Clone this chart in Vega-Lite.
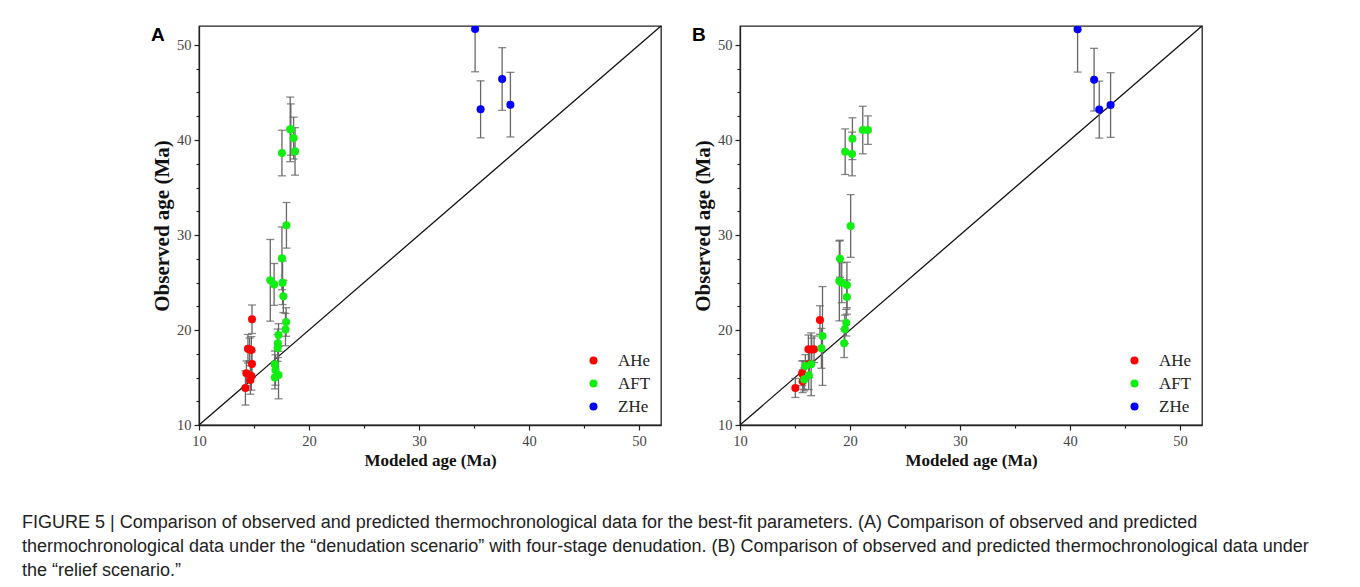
{
  "$schema": "https://vega.github.io/schema/vega-lite/v6.json",
  "padding": {"left": 22, "top": 22, "right": 5, "bottom": 5},
  "datasets": {
    "pts": [
      {"panel": "A", "type": "AHe", "modeled": 14.22, "observed": 13.9, "err": 1.8},
      {"panel": "A", "type": "AHe", "modeled": 14.31, "observed": 15.44, "err": 1.3},
      {"panel": "A", "type": "AHe", "modeled": 14.67, "observed": 14.74, "err": 1.5},
      {"panel": "A", "type": "AHe", "modeled": 14.76, "observed": 15.16, "err": 1.5},
      {"panel": "A", "type": "AHe", "modeled": 14.82, "observed": 16.42, "err": 1.4},
      {"panel": "A", "type": "AHe", "modeled": 14.45, "observed": 18.03, "err": 1.5},
      {"panel": "A", "type": "AHe", "modeled": 14.6, "observed": 17.95, "err": 1.2},
      {"panel": "A", "type": "AHe", "modeled": 14.76, "observed": 17.9, "err": 1.4},
      {"panel": "A", "type": "AHe", "modeled": 14.82, "observed": 21.13, "err": 1.5},
      {"panel": "A", "type": "AFT", "modeled": 17.54, "observed": 38.63, "err": 2.4},
      {"panel": "A", "type": "AFT", "modeled": 18.29, "observed": 41.12, "err": 3.4},
      {"panel": "A", "type": "AFT", "modeled": 18.35, "observed": 41.1, "err": 2.7},
      {"panel": "A", "type": "AFT", "modeled": 18.6, "observed": 40.2, "err": 2.2},
      {"panel": "A", "type": "AFT", "modeled": 18.73, "observed": 38.8, "err": 2.5},
      {"panel": "A", "type": "AFT", "modeled": 17.95, "observed": 31.02, "err": 2.4},
      {"panel": "A", "type": "AFT", "modeled": 17.54, "observed": 27.54, "err": 3.3},
      {"panel": "A", "type": "AFT", "modeled": 16.48, "observed": 25.23, "err": 4.3},
      {"panel": "A", "type": "AFT", "modeled": 16.83, "observed": 24.8, "err": 2.2},
      {"panel": "A", "type": "AFT", "modeled": 17.6, "observed": 24.98, "err": 2.3},
      {"panel": "A", "type": "AFT", "modeled": 17.67, "observed": 23.54, "err": 1.7},
      {"panel": "A", "type": "AFT", "modeled": 17.92, "observed": 20.84, "err": 1.5},
      {"panel": "A", "type": "AFT", "modeled": 17.86, "observed": 20.04, "err": 1.7},
      {"panel": "A", "type": "AFT", "modeled": 17.23, "observed": 19.47, "err": 1.2},
      {"panel": "A", "type": "AFT", "modeled": 17.17, "observed": 18.6, "err": 1.5},
      {"panel": "A", "type": "AFT", "modeled": 17.15, "observed": 18.1, "err": 1.4},
      {"panel": "A", "type": "AFT", "modeled": 16.89, "observed": 16.39, "err": 1.4},
      {"panel": "A", "type": "AFT", "modeled": 16.95, "observed": 15.79, "err": 1.6},
      {"panel": "A", "type": "AFT", "modeled": 17.23, "observed": 15.26, "err": 2.5},
      {"panel": "A", "type": "AFT", "modeled": 16.9, "observed": 15.0, "err": 1.2},
      {"panel": "A", "type": "ZHe", "modeled": 35.1, "observed": 51.68, "err": 4.5},
      {"panel": "A", "type": "ZHe", "modeled": 35.6, "observed": 43.23, "err": 3.0},
      {"panel": "A", "type": "ZHe", "modeled": 37.56, "observed": 46.42, "err": 3.3},
      {"panel": "A", "type": "ZHe", "modeled": 38.31, "observed": 43.72, "err": 3.4},
      {"panel": "B", "type": "AHe", "modeled": 15.03, "observed": 13.9, "err": 1.0},
      {"panel": "B", "type": "AHe", "modeled": 15.7, "observed": 14.6, "err": 1.2},
      {"panel": "B", "type": "AHe", "modeled": 15.75, "observed": 15.26, "err": 1.5},
      {"panel": "B", "type": "AHe", "modeled": 15.65, "observed": 15.44, "err": 1.3},
      {"panel": "B", "type": "AHe", "modeled": 16.3, "observed": 16.42, "err": 1.4},
      {"panel": "B", "type": "AHe", "modeled": 16.22, "observed": 17.97, "err": 1.5},
      {"panel": "B", "type": "AHe", "modeled": 16.52, "observed": 17.95, "err": 1.2},
      {"panel": "B", "type": "AHe", "modeled": 16.73, "observed": 17.97, "err": 1.4},
      {"panel": "B", "type": "AHe", "modeled": 17.27, "observed": 21.05, "err": 1.5},
      {"panel": "B", "type": "AFT", "modeled": 19.56, "observed": 38.77, "err": 2.4},
      {"panel": "B", "type": "AFT", "modeled": 20.19, "observed": 38.53, "err": 2.3},
      {"panel": "B", "type": "AFT", "modeled": 20.22, "observed": 40.14, "err": 2.2},
      {"panel": "B", "type": "AFT", "modeled": 21.16, "observed": 41.05, "err": 2.5},
      {"panel": "B", "type": "AFT", "modeled": 21.63, "observed": 41.05, "err": 1.5},
      {"panel": "B", "type": "AFT", "modeled": 20.06, "observed": 30.95, "err": 3.3},
      {"panel": "B", "type": "AFT", "modeled": 19.09, "observed": 27.5, "err": 1.95},
      {"panel": "B", "type": "AFT", "modeled": 19.03, "observed": 25.16, "err": 4.2},
      {"panel": "B", "type": "AFT", "modeled": 19.25, "observed": 24.98, "err": 2.1},
      {"panel": "B", "type": "AFT", "modeled": 19.72, "observed": 24.74, "err": 2.4},
      {"panel": "B", "type": "AFT", "modeled": 19.72, "observed": 23.47, "err": 1.8},
      {"panel": "B", "type": "AFT", "modeled": 19.66, "observed": 20.77, "err": 1.4},
      {"panel": "B", "type": "AFT", "modeled": 19.53, "observed": 20.07, "err": 1.5},
      {"panel": "B", "type": "AFT", "modeled": 19.47, "observed": 18.6, "err": 1.5},
      {"panel": "B", "type": "AFT", "modeled": 17.5, "observed": 19.37, "err": 5.2},
      {"panel": "B", "type": "AFT", "modeled": 17.4, "observed": 18.07, "err": 2.1},
      {"panel": "B", "type": "AFT", "modeled": 15.94, "observed": 16.2, "err": 1.2},
      {"panel": "B", "type": "AFT", "modeled": 16.47, "observed": 16.39, "err": 3.3},
      {"panel": "B", "type": "AFT", "modeled": 15.84, "observed": 14.8, "err": 1.2},
      {"panel": "B", "type": "AFT", "modeled": 16.25, "observed": 15.23, "err": 1.5},
      {"panel": "B", "type": "ZHe", "modeled": 40.69, "observed": 51.65, "err": 4.5},
      {"panel": "B", "type": "ZHe", "modeled": 42.19, "observed": 46.35, "err": 3.3},
      {"panel": "B", "type": "ZHe", "modeled": 42.66, "observed": 43.2, "err": 3.0},
      {"panel": "B", "type": "ZHe", "modeled": 43.69, "observed": 43.68, "err": 3.4}
    ],
    "diag": [
      {"modeled": 10, "observed": 10},
      {"modeled": 52, "observed": 52}
    ]
  },
  "title": {
    "text": [
      "FIGURE 5 | Comparison of observed and predicted thermochronological data for the best-fit parameters. (A) Comparison of observed and predicted",
      "thermochronological data under the \u201cdenudation scenario\u201d with four-stage denudation. (B) Comparison of observed and predicted thermochronological data under",
      "the \u201crelief scenario.\u201d"
    ],
    "orient": "bottom",
    "anchor": "start",
    "frame": "group",
    "font": "Liberation Sans",
    "fontSize": 18,
    "fontWeight": "normal",
    "color": "#222",
    "lineHeight": 24,
    "offset": 45,
    "dx": -177
  },
  "hconcat": [
    {
      "width": 462,
      "height": 399,
      "title": {"text": "A", "anchor": "start", "frame": "group", "orient": "top", "offset": 0, "dx": -48, "dy": 37, "baseline": "alphabetic", "font": "Liberation Sans", "fontSize": 19, "fontWeight": "bold", "color": "#000"},
      "layer": [
        {
          "data": {"name": "diag"},
          "mark": {"type": "line", "color": "#111", "strokeWidth": 1.3},
          "encoding": {
            "x": {"field": "modeled", "type": "quantitative"},
            "y": {"field": "observed", "type": "quantitative"}
          }
        },
        {
          "data": {"name": "pts"},
          "transform": [{"filter": "datum.panel === 'A'"}],
          "mark": {"type": "errorbar", "color": "#666", "thickness": 1.3, "clip": true, "ticks": {"size": 8, "color": "#555"}},
          "encoding": {
            "x": {"field": "modeled", "type": "quantitative"},
            "y": {"field": "observed", "type": "quantitative"},
            "yError": {"field": "err"}
          }
        },
        {
          "data": {"name": "pts"},
          "transform": [{"filter": "datum.panel === 'A'"}],
          "mark": {"type": "circle", "size": 65, "opacity": 1, "clip": true},
          "encoding": {
            "x": {"field": "modeled", "type": "quantitative"},
            "y": {"field": "observed", "type": "quantitative"},
            "color": {"field": "type", "type": "nominal", "scale": {"domain": ["AHe", "AFT", "ZHe"], "range": ["#ff0000", "#11ee11", "#0000ff"]}, "legend": {"title": null}}
          }
        }
      ],
      "encoding": {
        "x": {"field": "modeled", "type": "quantitative", "scale": {"domain": [10, 52], "nice": false, "zero": false}, "axis": {"title": "Modeled age (Ma)", "values": [10, 15, 20, 25, 30, 35, 40, 45, 50], "labelExpr": "datum.value % 10 === 0 ? datum.label : ''", "tickSize": {"condition": {"test": "datum.value % 10 === 0", "value": 5}, "value": 3}}},
        "y": {"field": "observed", "type": "quantitative", "scale": {"domain": [10, 52], "nice": false, "zero": false}, "axis": {"title": "Observed age (Ma)", "values": [10, 12.5, 15, 17.5, 20, 22.5, 25, 27.5, 30, 32.5, 35, 37.5, 40, 42.5, 45, 47.5, 50], "labelExpr": "datum.value % 10 === 0 ? datum.label : ''", "tickSize": {"condition": {"test": "datum.value % 10 === 0", "value": 5}, "value": 3}}}
      }
    },
    {
      "width": 462,
      "height": 399,
      "title": {"text": "B", "anchor": "start", "frame": "group", "orient": "top", "offset": 0, "dx": -48, "dy": 37, "baseline": "alphabetic", "font": "Liberation Sans", "fontSize": 19, "fontWeight": "bold", "color": "#000"},
      "layer": [
        {
          "data": {"name": "diag"},
          "mark": {"type": "line", "color": "#111", "strokeWidth": 1.3},
          "encoding": {
            "x": {"field": "modeled", "type": "quantitative"},
            "y": {"field": "observed", "type": "quantitative"}
          }
        },
        {
          "data": {"name": "pts"},
          "transform": [{"filter": "datum.panel === 'B'"}],
          "mark": {"type": "errorbar", "color": "#666", "thickness": 1.3, "clip": true, "ticks": {"size": 8, "color": "#555"}},
          "encoding": {
            "x": {"field": "modeled", "type": "quantitative"},
            "y": {"field": "observed", "type": "quantitative"},
            "yError": {"field": "err"}
          }
        },
        {
          "data": {"name": "pts"},
          "transform": [{"filter": "datum.panel === 'B'"}],
          "mark": {"type": "circle", "size": 65, "opacity": 1, "clip": true},
          "encoding": {
            "x": {"field": "modeled", "type": "quantitative"},
            "y": {"field": "observed", "type": "quantitative"},
            "color": {"field": "type", "type": "nominal", "scale": {"domain": ["AHe", "AFT", "ZHe"], "range": ["#ff0000", "#11ee11", "#0000ff"]}, "legend": {"title": null}}
          }
        }
      ],
      "encoding": {
        "x": {"field": "modeled", "type": "quantitative", "scale": {"domain": [10, 52], "nice": false, "zero": false}, "axis": {"title": "Modeled age (Ma)", "values": [10, 15, 20, 25, 30, 35, 40, 45, 50], "labelExpr": "datum.value % 10 === 0 ? datum.label : ''", "tickSize": {"condition": {"test": "datum.value % 10 === 0", "value": 5}, "value": 3}}},
        "y": {"field": "observed", "type": "quantitative", "scale": {"domain": [10, 52], "nice": false, "zero": false}, "axis": {"title": "Observed age (Ma)", "values": [10, 12.5, 15, 17.5, 20, 22.5, 25, 27.5, 30, 32.5, 35, 37.5, 40, 42.5, 45, 47.5, 50], "labelExpr": "datum.value % 10 === 0 ? datum.label : ''", "tickSize": {"condition": {"test": "datum.value % 10 === 0", "value": 5}, "value": 3}}}
      }
    }
  ],
  "spacing": 26,
  "resolve": {"legend": {"color": "independent"}},
  "config": {
    "view": {"stroke": "#222", "strokeWidth": 1.3},
    "axis": {
      "grid": false,
      "domainColor": "#222",
      "domainWidth": 1.3,
      "tickColor": "#222",
      "tickWidth": 1.2,
      "labelFont": "Liberation Serif",
      "labelFontSize": 14.5,
      "labelColor": "#444",
      "labelFlush": false,
      "labelOverlap": false,
      "labelPadding": 3,
      "titleFont": "Liberation Serif",
      "titleFontSize": 17,
      "titleFontWeight": "bold",
      "titleColor": "#111"
    },
    "axisX": {"titlePadding": 5, "labelPadding": 4},
    "axisY": {"titlePadding": 4, "titleFontSize": 21},
    "legend": {
      "orient": "bottom-right",
      "offset": 10,
      "labelFont": "Liberation Serif",
      "labelFontSize": 17,
      "labelColor": "#222",
      "symbolType": "circle",
      "symbolSize": 65,
      "rowPadding": 5,
      "labelOffset": 16
    }
  }
}
